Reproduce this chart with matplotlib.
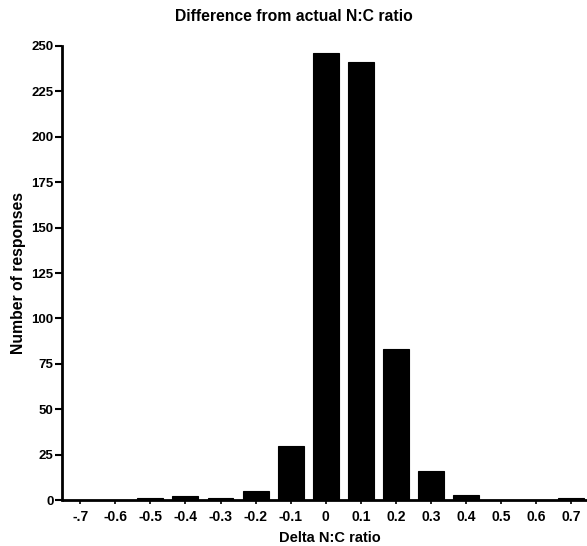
import numpy as np
import matplotlib
matplotlib.use('Agg')
from matplotlib import pyplot as plt

plt.rcParams['font.family'] = ['Liberation Sans', 'DejaVu Sans']
plt.rcParams['font.weight'] = 'bold'

delta = [-0.7, -0.6, -0.5, -0.4, -0.3, -0.2, -0.1, 0.0, 0.1, 0.2, 0.3, 0.4, 0.5, 0.6, 0.7]
counts = [0, 0, 1, 2, 1, 5, 30, 246, 241, 83, 16, 3, 0, 0, 1]
xlabels = ['-.7', '-0.6', '-0.5', '-0.4', '-0.3', '-0.2', '-0.1', '0',
           '0.1', '0.2', '0.3', '0.4', '0.5', '0.6', '0.7']
yticks = [0, 25, 50, 75, 100, 125, 150, 175, 200, 225, 250]

fig = plt.figure(figsize=(5.87, 5.46), dpi=100)
ax = fig.add_axes([0.1056, 0.0842, 0.8944, 0.8316])

ax.bar(delta, counts, width=0.074, color='black', edgecolor='black', linewidth=0.8)

ax.set_xlim(-0.752, 0.745)
ax.set_ylim(0, 250)
ax.set_xticks(delta)
ax.set_xticklabels(xlabels, fontsize=10, fontweight='bold')
ax.set_yticks(yticks)
ax.set_yticklabels([str(v) for v in yticks], fontsize=9.5, fontweight='bold')
ax.tick_params(axis='x', length=3, width=1.2, pad=4)
ax.tick_params(axis='y', length=5, width=1.5, pad=1)

for s in ['top', 'right']:
    ax.spines[s].set_visible(False)
for s in ['left', 'bottom']:
    ax.spines[s].set_linewidth(2)
ax.spines['bottom'].set_capstyle('butt')

# title is centred on the whole figure, not the axes
fig.suptitle('Difference from actual N:C ratio', x=0.5, y=0.969, va='center',
             fontsize=11.3, fontweight='bold')
ax.set_xlabel('Delta N:C ratio', fontsize=10.5, fontweight='bold', labelpad=5)
ax.xaxis.set_label_coords(0.51, -0.068)
ax.set_ylabel('Number of responses', fontsize=11.3, fontweight='bold', labelpad=4)

fig.savefig('out.png', dpi=100)
